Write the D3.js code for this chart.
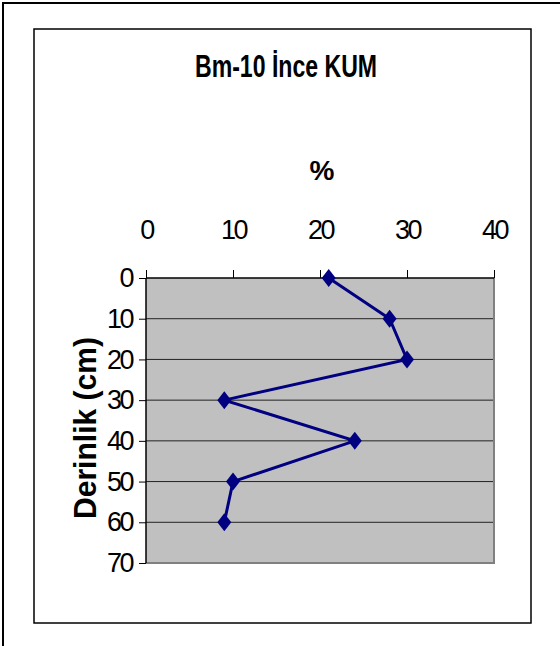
<!DOCTYPE html>
<html lang="en">
<meta charset="utf-8" />
<style>
    body { margin: 0; background: #fff; }
    text { font-family: "Liberation Sans", Arial, sans-serif; fill: #000; }
    .tick text { font-size: 27px; letter-spacing: -2.5px; }
</style>
<body>
<svg width="560" height="646"></svg>
<script src="https://d3js.org/d3.v7.min.js"></script>
<script>
    // data
    var depths = [0, 10, 20, 30, 40, 50, 60]
    var percents = [21, 28, 30, 9, 24, 10, 9]
    var xTicks = [0, 10, 20, 30, 40]
    var yTicks = [0, 10, 20, 30, 40, 50, 60, 70]

    var svg = d3.select("svg")

    // outer frame (only left + top visible) and chart frame
    svg.append("rect")
        .attr("x", 3).attr("y", 3)
        .attr("width", 600).attr("height", 700)
        .attr("fill", "none").attr("stroke", "#000").attr("stroke-width", 2)
    svg.append("rect")
        .attr("x", 34).attr("y", 29)
        .attr("width", 497).attr("height", 594)
        .attr("fill", "none").attr("stroke", "#000").attr("stroke-width", 1.5)

    var x = d3.scaleLinear().domain([0, 40]).range([146, 494])
    var y = d3.scaleLinear().domain([0, 70]).range([278, 563])

    // plot area
    svg.append("rect")
        .attr("x", x(0)).attr("y", y(0))
        .attr("width", x(40) - x(0)).attr("height", y(70) - y(0))
        .attr("fill", "#c0c0c0")

    svg.append("g").selectAll("line")
        .data(yTicks.filter(d => d > 0 && d < 70))
        .enter().append("line")
        .attr("x1", x(0)).attr("x2", x(40))
        .attr("y1", d => y(d)).attr("y2", d => y(d))
        .attr("stroke", "#222").attr("stroke-width", 1)

    // right and bottom edge in gray
    svg.append("path")
        .attr("d", "M" + x(40) + "," + y(0) + "V" + y(70) + "H" + x(0))
        .attr("fill", "none").attr("stroke", "#808080").attr("stroke-width", 2)

    var gx = svg.append("g")
        .attr("transform", "translate(0," + y(0) + ")")
        .call(d3.axisTop(x).tickValues(xTicks).tickSize(8).tickPadding(31))
    var gy = svg.append("g")
        .attr("transform", "translate(" + x(0) + ",0)")
        .call(d3.axisLeft(y).tickValues(yTicks).tickSize(7).tickPadding(7))

    ;[gx, gy].forEach(g => {
        g.attr("font-family", null).attr("font-size", null)
        g.select(".domain").attr("stroke", "#000").attr("stroke-width", 1.5)
        g.selectAll(".tick line").attr("stroke", "#000")
        g.selectAll(".tick text").attr("fill", "#000")
    })
    gx.select(".domain").attr("d", "M" + x(0) + ",0H" + x(40))
    gy.select(".domain").attr("d", "M0," + y(0) + "V" + y(70))

    // series
    var pts = depths.map((d, i) => [x(percents[i]), y(d)])
    svg.append("path")
        .attr("d", d3.line()(pts))
        .attr("fill", "none").attr("stroke", "#000080").attr("stroke-width", 3)

    svg.append("g").selectAll("path")
        .data(pts)
        .enter().append("path")
        .attr("d", d => "M" + d[0] + "," + (d[1] - 9) + "L" + (d[0] + 7) + "," + d[1] +
            "L" + d[0] + "," + (d[1] + 9) + "L" + (d[0] - 7) + "," + d[1] + "Z")
        .attr("fill", "#000080")

    // titles
    svg.append("text")
        .text("Bm-10 İnce KUM")
        .attr("x", 195).attr("y", 77)
        .attr("font-size", 31).attr("font-weight", "bold")
        .attr("textLength", 182).attr("lengthAdjust", "spacingAndGlyphs")

    svg.append("text")
        .text("%")
        .attr("x", 322).attr("y", 180)
        .attr("text-anchor", "middle")
        .attr("font-size", 28).attr("font-weight", "bold")

    svg.append("text")
        .text("Derinlik (cm)")
        .attr("transform", "translate(96,428) rotate(-90)")
        .attr("text-anchor", "middle")
        .attr("font-size", 31).attr("font-weight", "bold")
        .attr("textLength", 182).attr("lengthAdjust", "spacingAndGlyphs")
</script>
</body>
</html>
